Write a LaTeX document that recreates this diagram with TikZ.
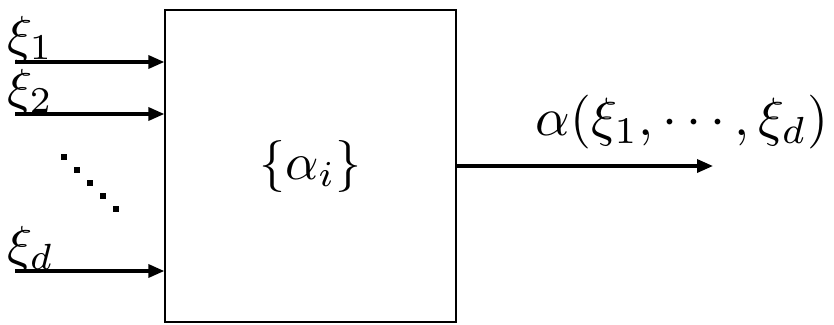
\documentclass[tikz,border=0pt]{standalone}
\usetikzlibrary{arrows.meta}
\begin{document}
\begin{tikzpicture}[x=1pt,y=-1pt,
  big/.style={font=\normalsize, scale=5.2, inner sep=0pt},
  conn/.style={line width=3.4pt, -{Triangle[length=16pt,width=13pt]}},
  dotsq/.style={fill=black, minimum size=6.5pt, inner sep=0pt, draw=none}]
\useasboundingbox (0,0) rectangle (834,324);
\node[draw, line width=1.3pt, minimum width=291pt, minimum height=312pt, inner sep=0pt] (box) at (310.5,166) {};
\node[big] (in) at (box.center) {$\{\alpha_i\}$};
\coordinate (s1) at (15,62);
\coordinate (s2) at (15,114);
\coordinate (sd) at (15,271);
\coordinate (e1) at (box.west |- s1);
\coordinate (e2) at (box.west |- s2);
\coordinate (ed) at (box.west |- sd);
\coordinate (oe) at (713,166);
\draw[conn] (s1) -- (e1);
\draw[conn] (s2) -- (e2);
\draw[conn] (sd) -- (ed);
\draw[conn] (box.east |- oe) -- (oe);
\node[big, anchor=base west] (l1) at (6,52) {$\xi_1$};
\node[big, anchor=base west] (l2) at (6,105) {$\xi_2$};
\node[big, anchor=base west] (ld) at (6,262) {$\xi_d$};
\node[big, scale=1.035, anchor=base east] (lo) at (829,135) {$\alpha(\xi_1,\cdots,\xi_d)$};
\node[dotsq] (d1) at (64,157) {};
\node[dotsq] (d2) at (77,170) {};
\node[dotsq] (d3) at (90,183) {};
\node[dotsq] (d4) at (103,196) {};
\node[dotsq] (d5) at (116,209) {};
\end{tikzpicture}
\end{document}
